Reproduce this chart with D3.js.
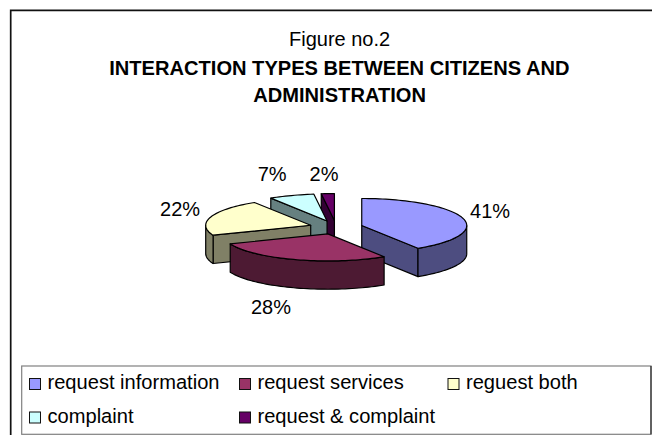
<!DOCTYPE html>
<html><head><meta charset="utf-8">
<script src="https://cdn.jsdelivr.net/npm/d3@7"></script>
<style>html,body{margin:0;padding:0;background:#fff}svg{display:block}text{font-family:"Liberation Sans",Arial,sans-serif;fill:#000}</style>
</head><body><svg id="c" width="652" height="435"></svg>
<script>
const categories=["request information","request services","reguest both","complaint","request & complaint"];
const values=[41,28,22,7,2];
const faceColors=["#9999FF","#993366","#FFFFCC","#CCFFFF","#660066"];
const wallColors=["#4D4D80","#4D1A33","#808066","#668080","#330033"];

const svg=d3.select("#c");
const W=652,H=435;
// frame
svg.append("path").attr("d",`M10.7,${H} V10.3 H${W}`).attr("fill","none").attr("stroke","#111").attr("stroke-width",1.7);
// titles
const t=svg.append("g").attr("text-anchor","middle").attr("font-size",20);
t.append("text").attr("x",339.6).attr("y",45.7).text("Figure no.2");
t.append("text").attr("x",339.4).attr("y",75).attr("font-size",20.1).attr("font-weight","bold").text("INTERACTION TYPES BETWEEN CITIZENS AND");
t.append("text").attr("x",339.6).attr("y",101.7).attr("font-size",20.1).attr("font-weight","bold").text("ADMINISTRATION");

// pie geometry
const cx=336.1,cy=227.4,rx=105,ry=27,depth=28.3,explode=26.7;
const labelNudge=[[27.5,0],[-24.4,54.4],[-30.8,-1],[-19.4,-14.5],[-3.8,-12.7]];
const arcs=d3.pie().sort(null).value(d=>d)(values);
const HALF=Math.PI/2;
const line=d3.line();
function poly(g,pts,fill){
  g.append("path").attr("d",line(pts)+"Z").attr("fill",fill)
   .attr("stroke","#000").attr("stroke-width",1.2).attr("stroke-linejoin","round");
}
function sweep(a0,a1){
  const n=Math.max(3,Math.ceil((a1-a0)*30));
  return d3.range(n+1).map(i=>a0+(a1-a0)*i/n);
}
const gp=svg.append("g");
[4,3,2,0,1].forEach(i=>{
  const d=arcs[i],g=gp.append("g"),w=wallColors[i];
  const mid=(d.startAngle+d.endAngle)/2;
  const ox=cx+explode*Math.sin(mid), oy=cy-explode*(ry/rx)*Math.cos(mid);
  const pt=(a,dz=0)=>[ox+rx*Math.sin(a),oy-ry*Math.cos(a)+dz];
  // radial walls that face the viewer
  const radial=a=>{const p=pt(a);poly(g,[[ox,oy],p,[p[0],p[1]+depth],[ox,oy+depth]],w);};
  if(Math.sin(d.startAngle)<-1e-6) radial(d.startAngle);
  if(Math.sin(d.endAngle)>1e-6) radial(d.endAngle);
  // outer wall: only the front half of the rim
  const a0=Math.max(d.startAngle,HALF),a1=Math.min(d.endAngle,3*HALF);
  if(a1>a0){
    const s=sweep(a0,a1);
    poly(g,s.map(a=>pt(a)).concat(s.slice().reverse().map(a=>pt(a,depth))),w);
  }
  // top face
  poly(g,[[ox,oy]].concat(sweep(d.startAngle,d.endAngle).map(a=>pt(a))),faceColors[i]);
  d.labelPos=[pt(mid)[0]+labelNudge[i][0],pt(mid)[1]+labelNudge[i][1]];
});
// value labels
svg.append("g").attr("text-anchor","middle").attr("font-size",20)
  .selectAll("text").data(arcs).join("text")
  .attr("x",d=>d.labelPos[0]).attr("y",d=>d.labelPos[1]).text(d=>d.value+"%");

// legend
const legX=21.7,legY=366,legB=434.3,legR=651;
svg.append("rect").attr("x",legX).attr("y",legY).attr("width",legR-legX).attr("height",legB-legY)
  .attr("fill","#fff").attr("stroke","#808080").attr("stroke-width",1.2);
svg.append("line").attr("x1",legR).attr("x2",legR).attr("y1",legY).attr("y2",legB).attr("stroke","#111").attr("stroke-width",1);
const colX=[29.5,239.5,448];
const rowY=[378.5,412];
[[0,1,2],[3,4]].forEach((r,ri)=>r.forEach((i,ci)=>{
  svg.append("rect").attr("x",colX[ci]).attr("y",rowY[ri]).attr("width",11).attr("height",11)
    .attr("fill",faceColors[i]).attr("stroke","#111").attr("stroke-width",1);
  svg.append("text").attr("x",colX[ci]+18).attr("y",rowY[ri]+10.6).attr("font-size",20.1).text(categories[i]);
}));
</script></body></html>
